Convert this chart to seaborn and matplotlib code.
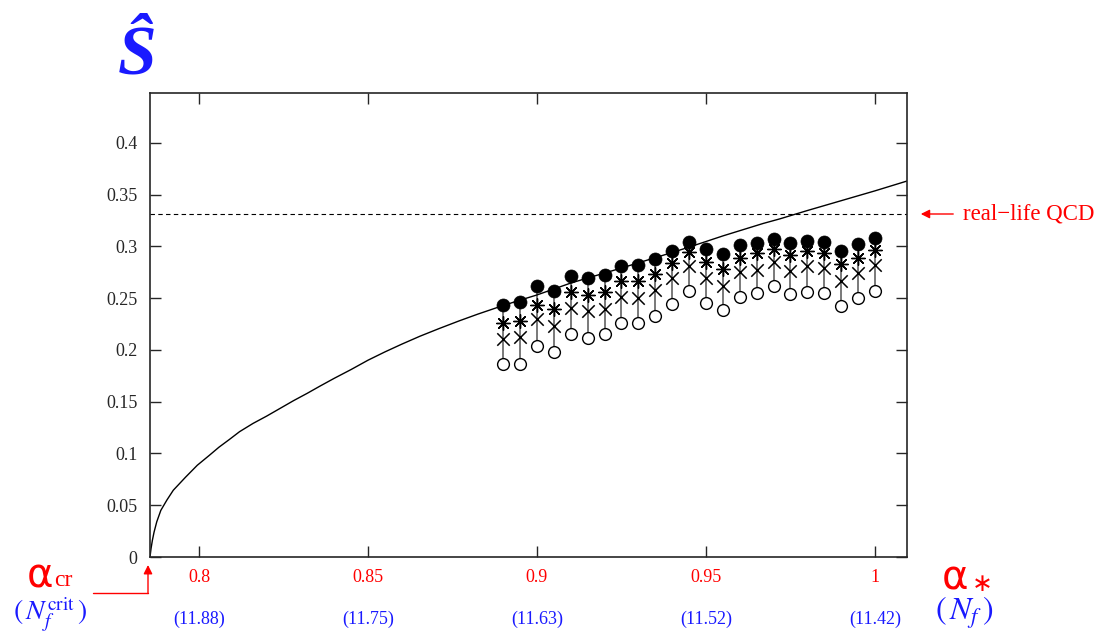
import matplotlib
matplotlib.use("Agg")
import matplotlib.pyplot as plt
import seaborn as sns
from matplotlib.lines import Line2D

# ---------------- data ----------------
alpha_curve = [0.7855, 0.7858, 0.7862, 0.7867, 0.7875, 0.7887, 0.7905, 0.7924, 0.7960,
               0.7995, 0.8030, 0.8059, 0.8090, 0.8120, 0.8160, 0.8200, 0.8240, 0.8280,
               0.8320, 0.8358, 0.8400, 0.8450, 0.8500, 0.8550, 0.8600, 0.8654, 0.8710,
               0.8770, 0.8825, 0.8880, 0.8940, 0.9000, 0.9100, 0.9250, 0.9400, 0.9453,
               0.9550, 0.9669, 0.9719, 0.9800, 0.9900, 1.0000, 1.0095]
s_curve = [0.0, 0.008, 0.016, 0.024, 0.034, 0.045, 0.055, 0.0645, 0.077,
           0.0886, 0.098, 0.106, 0.1135, 0.121, 0.129, 0.136, 0.1435, 0.151,
           0.158, 0.165, 0.1725, 0.181, 0.190, 0.198, 0.2055, 0.2132, 0.2205,
           0.228, 0.2345, 0.2406, 0.247, 0.253, 0.2645, 0.279, 0.294, 0.2995,
           0.310, 0.322, 0.3265, 0.3345, 0.344, 0.3535, 0.363]

alpha_pts = [0.890, 0.895, 0.900, 0.905, 0.910, 0.915, 0.920, 0.925, 0.930, 0.935,
             0.940, 0.945, 0.950, 0.955, 0.960, 0.965, 0.970, 0.975, 0.980, 0.985,
             0.990, 0.995, 1.000]
s_filled = [0.243, 0.246, 0.262, 0.257, 0.2715, 0.269, 0.272, 0.2805, 0.282, 0.2875,
            0.2955, 0.304, 0.297, 0.2927, 0.301, 0.3034, 0.3075, 0.303, 0.3053, 0.3043,
            0.2957, 0.3024, 0.3079]
s_star = [0.2258, 0.2283, 0.2435, 0.2393, 0.2563, 0.2525, 0.2563, 0.2667, 0.266, 0.2734,
          0.2834, 0.2944, 0.2844, 0.278, 0.2886, 0.2934, 0.2973, 0.2918, 0.295, 0.294,
          0.2828, 0.2886, 0.296]
s_cross = [0.2106, 0.2123, 0.2297, 0.2232, 0.2403, 0.2377, 0.2396, 0.2515, 0.2505, 0.258,
           0.2693, 0.2805, 0.2693, 0.2621, 0.2747, 0.2773, 0.2844, 0.2766, 0.2805, 0.279,
           0.2667, 0.2741, 0.2821]
s_open = [0.1862, 0.1868, 0.2039, 0.198, 0.2152, 0.2116, 0.2152, 0.2258, 0.2258, 0.2331,
          0.2444, 0.257, 0.245, 0.2386, 0.2509, 0.2548, 0.2612, 0.2535, 0.256, 0.2548,
          0.2428, 0.2496, 0.2573]

real_qcd = 0.331
xticks = [0.8, 0.85, 0.9, 0.95, 1.0]
xtick_labels = ["0.8", "0.85", "0.9", "0.95", "1"]
nf_labels = ["(11.88)", "(11.75)", "(11.63)", "(11.52)", "(11.42)"]
yticks = [0, 0.05, 0.1, 0.15, 0.2, 0.25, 0.3, 0.35, 0.4]
ytick_labels = ["0", "0.05", "0.1", "0.15", "0.2", "0.25", "0.3", "0.35", "0.4"]
alpha_cr = 0.7855

# ---------------- figure ----------------
sns.set_style("ticks")
plt.rcParams['font.family'] = ['Liberation Serif', 'DejaVu Sans']
plt.rcParams['mathtext.fontset'] = 'stix'

W, H = 1109, 639
BLUE = "#1a1aff"
fig = plt.figure(figsize=(W / 100, H / 100), dpi=100)
ax = fig.add_axes([150 / W, 1 - 557 / H, 757 / W, 464 / H])

def fp(x, y):
    return (x / W, 1 - y / H)

# vertical connectors
ax.vlines(alpha_pts, s_open, s_filled, colors="#555555", lw=1.1, zorder=1)

sns.lineplot(x=alpha_curve, y=s_curve, color="black", lw=1.0, ax=ax, sort=True,
             estimator=None, zorder=2)

ax.axhline(real_qcd, color="black", lw=0.8, ls=(0, (4, 3)), zorder=1)

sns.scatterplot(x=alpha_pts, y=s_open, marker="o", s=72, facecolor="white",
                edgecolor="black", linewidth=1.0, ax=ax, zorder=3)
sns.scatterplot(x=alpha_pts, y=s_cross, marker="x", s=80, color="black",
                linewidth=1.1, ax=ax, zorder=3)
sns.scatterplot(x=alpha_pts, y=s_star, marker=(8, 2, 0), s=95, color="black",
                linewidth=1.0, ax=ax, zorder=3)
sns.scatterplot(x=alpha_pts, y=s_filled, marker="o", s=88, color="black",
                edgecolor="black", linewidth=0.5, ax=ax, zorder=4)

ax.set_xlim(alpha_cr, 1.0095)
ax.set_ylim(0, 0.448)
ax.set_xticks(xticks)
ax.set_xticklabels(xtick_labels, color="red", fontsize=13)
ax.set_yticks(yticks)
ax.set_yticklabels(ytick_labels, fontsize=13)
ax.tick_params(direction="in", length=8, width=1, top=True, right=True, pad=9)
ax.set_xlabel("")
ax.set_ylabel("")
for sp in ax.spines.values():
    sp.set_visible(True)
    sp.set_linewidth(1.2)

# blue N_f labels under ticks
for xv, lab in zip(xticks, nf_labels):
    ax.text(xv, -0.135, lab, color=BLUE, fontsize=13, ha="center", va="center",
            transform=ax.get_xaxis_transform())

# real-life QCD annotation
ax.annotate("", xy=fp(918, 214), xytext=fp(956, 214), xycoords="figure fraction",
            textcoords="figure fraction",
            arrowprops=dict(arrowstyle="-|>", color="red", lw=1.0, mutation_scale=13))
fig.text(*fp(963, 214), "real\u2212life QCD", color="red", fontsize=16.5,
         ha="left", va="center")

# S hat label
fig.text(*fp(137, 57), "\u015c", color=BLUE, fontsize=50, fontweight="bold",
         fontstyle="italic", ha="center", va="center")

# alpha_cr
fig.text(*fp(40, 588), "\u03b1", color="red", fontsize=29, family="DejaVu Sans",
         ha="center", va="baseline")
fig.text(*fp(54, 586), "cr", color="red", fontsize=17, ha="left", va="baseline")
fig.text(*fp(50, 614), r"$(\,N_f^{\mathrm{crit}}\,)$", color=BLUE, fontsize=20,
         ha="center", va="center")
# arrow from alpha_cr to axis origin
fig.add_artist(Line2D([93 / W, 148 / W], [1 - 593 / H, 1 - 593 / H], color="red", lw=1.0))
ax.annotate("", xy=fp(148, 565), xytext=fp(148, 593.5), xycoords="figure fraction",
            textcoords="figure fraction",
            arrowprops=dict(arrowstyle="-|>", color="red", lw=1.0, mutation_scale=13,
                            shrinkA=0, shrinkB=0))

# alpha_* and N_f
fig.text(*fp(955, 589), "\u03b1", color="red", fontsize=29, family="DejaVu Sans",
         ha="center", va="baseline")
fig.text(*fp(982, 584), "\u2217", color="red", fontsize=18, family="DejaVu Sans",
         ha="center", va="center")
fig.text(*fp(964, 613), r"$(\,N_f\,)$", color=BLUE, fontsize=23,
         ha="center", va="center")

fig.savefig("out.png", dpi=100)
